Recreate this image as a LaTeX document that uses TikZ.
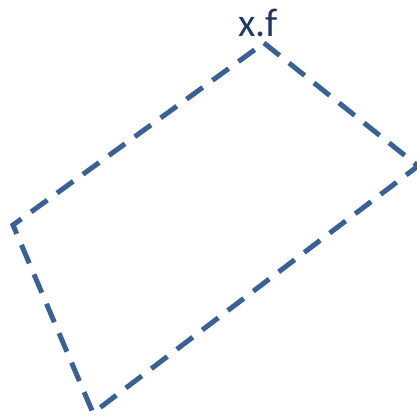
\documentclass[tikz,border=0pt]{standalone}
\usepackage{fontspec}
\setmainfont{Carlito}
\definecolor{edgeblue}{HTML}{3A6194}
\definecolor{textnavy}{HTML}{1F3864}
\tikzset{
  quadedge/.style={draw=edgeblue, line width=5pt, dash pattern=on 20pt off 12pt, line join=miter},
  lbl/.style={text=textnavy, font=\fontsize{40}{44}\selectfont, inner sep=0pt, anchor=base}
}
\begin{document}
\begin{tikzpicture}[x=1pt,y=-1pt]
\useasboundingbox (0,0) rectangle (416,418);
\coordinate (T) at (264,43);
\coordinate (R) at (418,166);
\coordinate (B) at (93,413);
\coordinate (L) at (13,225);
\draw[quadedge] (T) -- (R) -- (B) -- (L) -- cycle;
\node[lbl] (xf) at (258,36) {x.f};
\end{tikzpicture}
\end{document}
